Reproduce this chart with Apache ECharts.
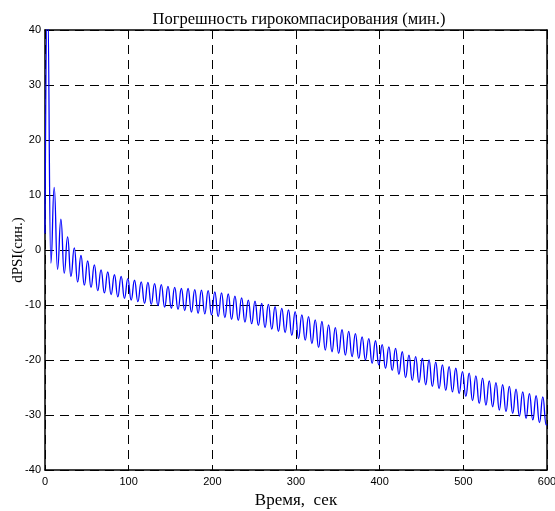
<!DOCTYPE html>
<html>
<head lang="ru">
    <meta charset="UTF-8">
    <title>Погрешность гирокомпасирования</title>
    <script src="https://cdn.jsdelivr.net/npm/echarts@6/dist/echarts.min.js"></script>
    <style>
        html, body { margin: 0; padding: 0; background: #fff; }
        #container { width: 555px; height: 511px; }
    </style>
</head>
<body>
<div id="container"></div>
<script>
    // время, сек (точки экстремумов)
    var times = [
        0, 3, 7, 11, 15, 19, 23, 27, 31, 35, 39, 43, 47, 51, 55, 59, 63, 67, 71, 75,
        79, 83, 87, 91, 95, 99, 103, 107, 111, 115, 119, 123, 127, 131, 135, 139, 143, 147, 151, 155,
        159, 163, 167, 171, 175, 179, 183, 187, 191, 195, 199, 203, 207, 211, 215, 219, 223, 227, 231, 235,
        239, 243, 247, 251, 255, 259, 263, 267, 271, 275, 279, 283, 287, 291, 295, 299, 303, 307, 311, 315,
        319, 323, 327, 331, 335, 339, 343, 347, 351, 355, 359, 363, 367, 371, 375, 379, 383, 387, 391, 395,
        399, 403, 407, 411, 415, 419, 423, 427, 431, 435, 439, 443, 447, 451, 455, 459, 463, 467, 471, 475,
        479, 483, 487, 491, 495, 499, 503, 507, 511, 515, 519, 523, 527, 531, 535, 539, 543, 547, 551, 555,
        559, 563, 567, 571, 575, 579, 583, 587, 591, 595, 599, 600
    ];
    // dPSI, мин
    var dpsi = [
        3, 46, -2.4, 11.4, -3.5, 5.6, -4.2, 2.4, -4.8, 0.4, -5.8, -1.0, -6.4, -2.0, -6.8, -2.7, -7.4, -3.6, -7.8, -4.0,
        -8.1, -4.5, -8.5, -4.8, -8.8, -5.2, -9.1, -5.5, -9.4, -5.8, -9.7, -5.9, -9.9, -6.1, -10.1, -6.3, -10.4, -6.6, -10.6, -6.8,
        -10.8, -7.0, -11.0, -7.0, -11.3, -7.2, -11.5, -7.3, -11.6, -7.4, -11.8, -7.6, -12.1, -7.8, -12.3, -8.0, -12.6, -8.4, -12.8, -8.7,
        -13.1, -9.1, -13.4, -9.3, -13.7, -9.7, -14.1, -9.9, -14.4, -10.3, -14.8, -10.6, -15.0, -10.9, -15.5, -11.2, -16.1, -11.8, -16.4, -12.1,
        -17.0, -12.7, -17.7, -13.0, -18.2, -13.6, -18.5, -14.1, -18.8, -14.5, -19.1, -14.8, -19.4, -15.2, -19.7, -15.8, -20.0, -16.1, -20.6, -16.5,
        -20.9, -17.2, -21.5, -17.6, -21.9, -17.9, -22.6, -18.5, -23.2, -19.1, -23.7, -19.4, -24.1, -19.7, -24.5, -20.0, -24.8, -20.4, -25.2, -20.9,
        -25.5, -21.2, -25.8, -21.5, -26.1, -22.1, -26.6, -22.4, -27.4, -22.9, -27.9, -23.3, -28.2, -23.8, -28.5, -24.1, -29.1, -24.5, -29.4, -24.8,
        -29.7, -25.3, -30.2, -25.8, -30.6, -26.1, -30.9, -26.5, -31.4, -26.7, -31.8, -31.7
    ];

    var labelFont = { color: '#000', fontFamily: 'Liberation Sans, Arial', fontSize: 11 };
    var serif = 'Liberation Serif, Times New Roman';
    var frame = { show: true, onZero: false, lineStyle: { color: '#000', width: 1.5 } };
    var ticks = { show: true, inside: true, length: 5, lineStyle: { color: '#000', width: 1 } };
    var dashed = { show: true, lineStyle: { color: '#000', width: 1, type: [9, 6] } };

    var myChart = echarts.init(document.getElementById('container'));
    myChart.setOption({
        animation: false,
        backgroundColor: '#fff',
        title: {
            text: 'Погрешность гирокомпасирования (мин.)',
            left: 294,
            top: 6,
            textAlign: 'center',
            textStyle: { fontFamily: serif, fontSize: 16.5, fontWeight: 'normal', color: '#000' }
        },
        grid: { left: 45, right: 8, top: 30, bottom: 41, containLabel: false, outerBoundsMode: 'none' },
        xAxis: [{
            type: 'value', min: 0, max: 600, interval: 100,
            name: 'Время,  сек', nameLocation: 'middle', nameGap: 22, nameMoveOverlap: false,
            nameTextStyle: { fontFamily: serif, fontSize: 17, color: '#000' },
            axisLine: frame, axisTick: ticks, splitLine: dashed,
            axisLabel: Object.assign({ margin: 6 }, labelFont)
        }, {
            type: 'value', min: 0, max: 600, interval: 100, position: 'top',
            axisLine: frame, axisTick: ticks, splitLine: { show: false },
            axisLabel: { show: false }
        }],
        yAxis: [{
            type: 'value', min: -40, max: 40, interval: 10,
            name: 'dPSI(син.)', nameLocation: 'middle', nameGap: 19, nameMoveOverlap: false,
            nameTextStyle: { fontFamily: serif, fontSize: 15, color: '#000' },
            axisLine: frame, axisTick: ticks, splitLine: dashed,
            axisLabel: Object.assign({ margin: 4 }, labelFont)
        }, {
            type: 'value', min: -40, max: 40, interval: 10, position: 'right',
            axisLine: frame, axisTick: ticks, splitLine: { show: false },
            axisLabel: { show: false }
        }],
        series: [{
            type: 'line',
            data: times.map(function (t, i) { return [t, dpsi[i]]; }),
            smooth: true,
            smoothMonotone: 'x',
            showSymbol: false,
            clip: true,
            lineStyle: { color: '#0000ff', width: 1.3 }
        }]
    });
</script>
</body>
</html>
